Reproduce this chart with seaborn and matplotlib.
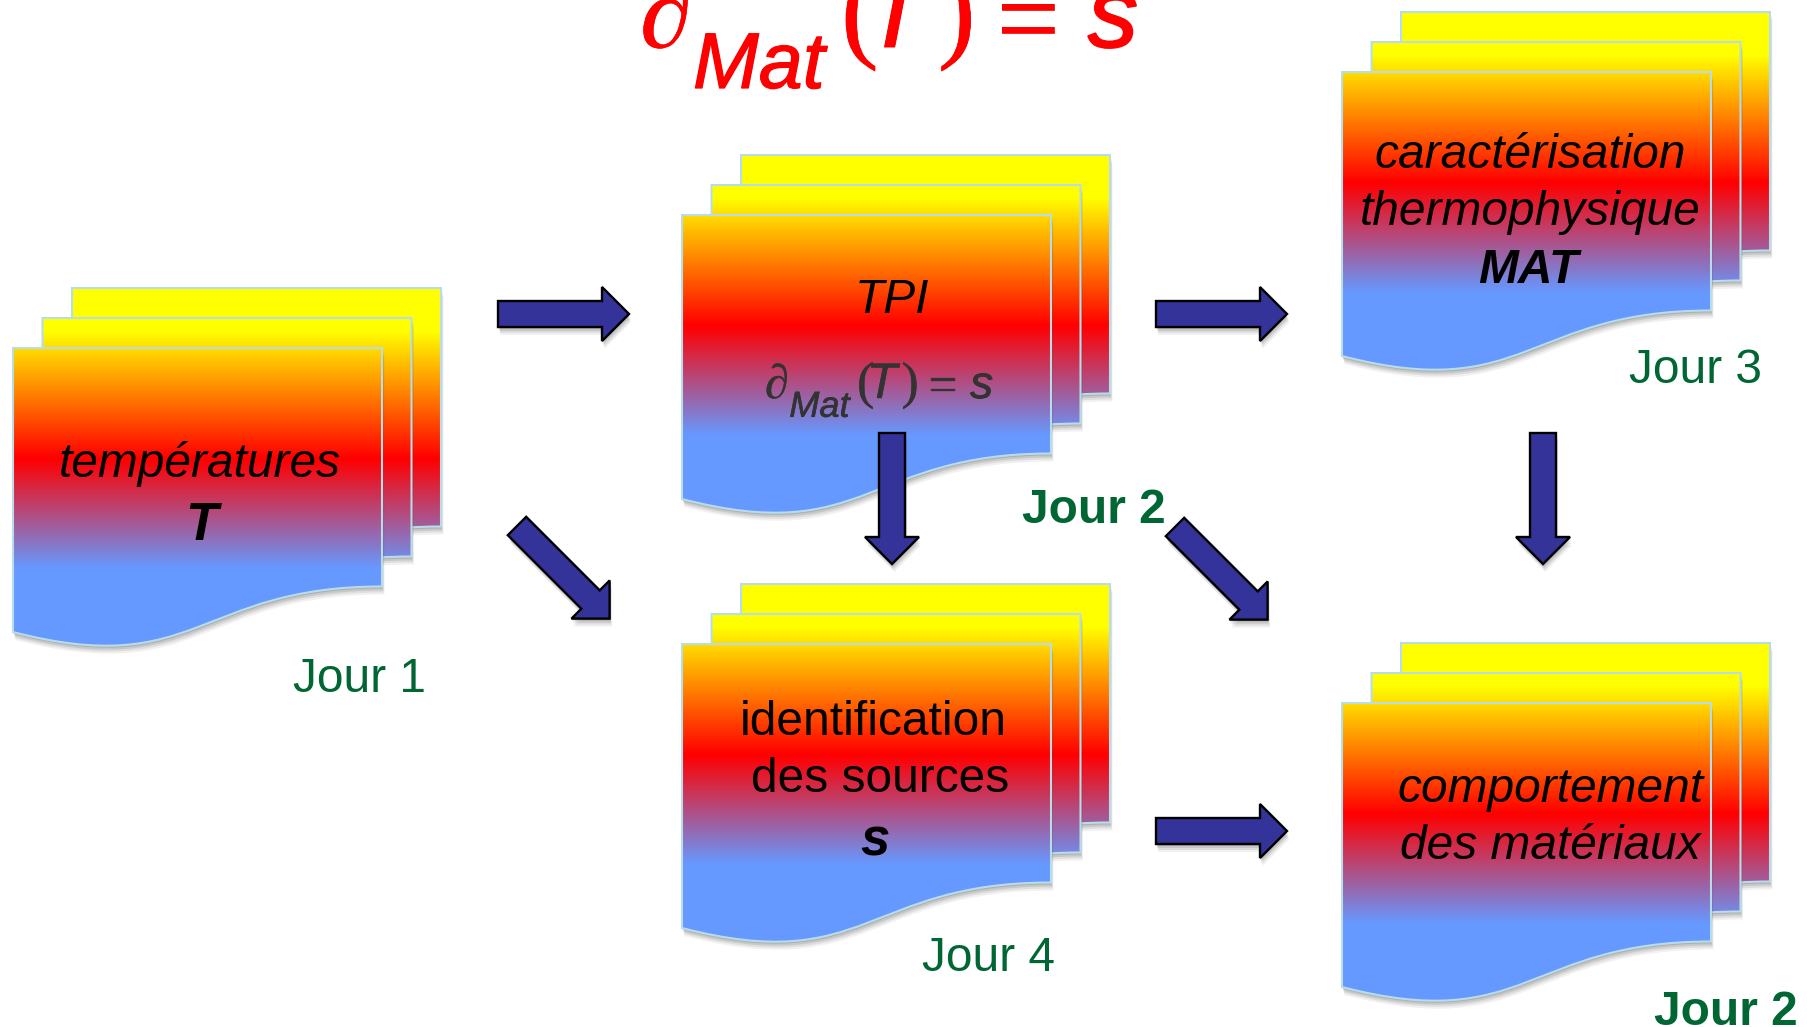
import matplotlib
matplotlib.use('Agg')
import matplotlib.patheffects as pe
import matplotlib.pyplot as plt
import numpy as np
import seaborn as sns
from matplotlib.patches import PathPatch, Polygon, Rectangle
from matplotlib.path import Path

# Data
stack_left = [13, 682, 1342, 682, 1342]
stack_top = [348, 215, 72, 644, 703]

# text, x centre, baseline, weight, style, size
box_texts = [
    ('températures', 200, 477, 'normal', 'italic', 34.5),
    ('T', 201, 540, 'bold', 'italic', 38),
    ('TPI', 892, 313, 'normal', 'italic', 34.5),
    ('caractérisation', 1530, 168, 'normal', 'italic', 34.5),
    ('thermophysique', 1530, 225, 'normal', 'italic', 34.5),
    ('MAT', 1528, 283, 'bold', 'italic', 34.5),
    ('identification', 873, 735, 'normal', 'normal', 34.5),
    ('des sources', 880, 792, 'normal', 'normal', 34.5),
    ('s', 875, 855, 'bold', 'italic', 38),
    ('comportement', 1550, 802, 'normal', 'italic', 34.5),
    ('des matériaux', 1550, 859, 'normal', 'italic', 34.5),
]

day_labels = ['Jour 1', 'Jour 2', 'Jour 3', 'Jour 4', 'Jour 2']
day_x = [360, 1094, 1696, 989, 1726]
day_y = [692, 523, 383, 971, 1025]
day_weight = ['normal', 'bold', 'normal', 'normal', 'bold']

# arrows: tail x, tail y, angle (degrees, clockwise from right)
arrow_x = [498, 1156, 1156, 892, 1543, 517, 1175]
arrow_y = [314, 314, 831, 433, 433, 526, 527]
arrow_angle = [0, 0, 0, 90, 90, 45, 45]

# formula pieces in the coordinates of the big red one
formula_text = ['∂', 'Mat', '(', 'T', ')', '=', 's']
formula_x = [640, 693, 841, 862, 938, 996, 1088]
formula_y = [47, 88, 47, 47, 47, 56, 47]
formula_px = [105, 79, 113, 109, 113, 113, 100]
formula_stroke = [0.4, 0.9, 0.5, 0.7, 0.5, 0.5, 1.4]
formula_family = ['Liberation Serif', 'Liberation Sans', 'Liberation Serif', 'Liberation Sans',
                  'Liberation Serif', 'Liberation Serif', 'Liberation Sans']
formula_style = ['italic', 'italic', 'normal', 'italic', 'normal', 'normal', 'italic']

sheet_w, sheet_h = 369, 284
green = '#006633'
navy = '#333399'

sns.set_theme(style='white')
plt.rcParams['font.family'] = ['Liberation Sans', 'DejaVu Sans']

# Gradient shared by the three sheets of a stack
grad = np.vstack([
    sns.blend_palette(['#ffff00', '#ffff00'], 42),
    sns.blend_palette(['#ffff00', '#ff0000'], 129),
    sns.blend_palette(['#ff0000', '#6699ff'], 110),
    sns.blend_palette(['#6699ff', '#6699ff'], 76),
])[:, None, :]

fig = plt.figure(figsize=(18.08, 10.27), dpi=100)
ax = fig.add_axes([0, 0, 1, 1])


def sheet_path(x, y):
    w = sheet_w
    verts = [(x, y), (x + w, y), (x + w, y + 238.5),
             (x + w / 2, y + 238.5), (x + w / 2, y + 332), (x, y + sheet_h),
             (x, y)]
    codes = [Path.MOVETO, Path.LINETO, Path.LINETO,
             Path.CURVE4, Path.CURVE4, Path.CURVE4, Path.CLOSEPOLY]
    return Path(verts, codes)


def draw_stack(x, y, z):
    y0 = y - 60
    for i in [2, 1, 0]:
        sx, sy = x + 29.5 * i, y - 30 * i
        # soft drop shadow
        for d, a in [(8, 0.07), (6, 0.10), (4, 0.14), (2, 0.18)]:
            p = sheet_path(sx, sy)
            ax.add_patch(PathPatch(Path(p.vertices + [d * 0.3, d], p.codes), fc='#404040',
                                   ec='none', alpha=a, zorder=z))
            z += 1
        im = ax.imshow(grad, extent=[x, x + sheet_w + 60, y0 + 357, y0], aspect='auto', zorder=z)
        patch = PathPatch(sheet_path(sx, sy), fc='none', ec='#b7dde8', lw=1.5, zorder=z + 1)
        ax.add_patch(patch)
        im.set_clip_path(patch)
        z += 2
    return z


def draw_arrow(x, y, angle, z):
    pts = np.array([[0, -13], [104, -13], [104, -27], [131, 0], [104, 27], [104, 13], [0, 13]], dtype=float)
    t = np.radians(angle)
    rot = np.array([[np.cos(t), -np.sin(t)], [np.sin(t), np.cos(t)]])
    pts = pts @ rot.T + [x, y]
    for d, a in [(8, 0.07), (6, 0.10), (4, 0.14), (2, 0.18)]:
        ax.add_patch(Polygon(pts + [d * 0.3, d], fc='#404040', ec='none', alpha=a, zorder=z))
    ax.add_patch(Polygon(pts, fc=navy, ec='black', lw=1.7, joinstyle='miter', zorder=z + 1))


def draw_formula(scale, ox, oy, color, z):
    for i in range(len(formula_text)):
        px = ox + scale * (formula_x[i] - 640)
        py = oy + scale * (formula_y[i] - 47)
        t = ax.text(px, py, formula_text[i], fontsize=formula_px[i] * scale * 0.72, color=color,
                    family=formula_family[i], style=formula_style[i], ha='left', va='baseline', zorder=z)
        t.set_path_effects([pe.withStroke(linewidth=formula_stroke[i] * scale, foreground=color)])
        if formula_text[i] in '()':
            t.set_clip_path(Rectangle((0, 0), 1808, oy + scale * 21, transform=ax.transData))


z = 2
for sx, sy in zip(stack_left, stack_top):
    z = draw_stack(sx, sy, z)

for txt, tx, ty, w, st, fs in box_texts:
    ax.text(tx, ty, txt, fontsize=fs, fontweight=w, style=st, color='black',
            ha='center', va='baseline', zorder=z)

draw_formula(1.0, 640, 47, '#ff0000', z)
draw_formula(0.458, 765, 398, '#333333', z)
z += 1

for ax_, ay_, ang in zip(arrow_x, arrow_y, arrow_angle):
    draw_arrow(ax_, ay_, ang, z)
z += 2

for lab, lx, ly, w in zip(day_labels, day_x, day_y, day_weight):
    ax.text(lx, ly, lab, fontsize=34.5, fontweight=w, color=green, ha='center', va='baseline', zorder=z)

ax.set_xlim(0, 1808)
ax.set_ylim(1027, 0)
ax.axis('off')

plt.savefig('out.png', dpi=100, facecolor='white')
